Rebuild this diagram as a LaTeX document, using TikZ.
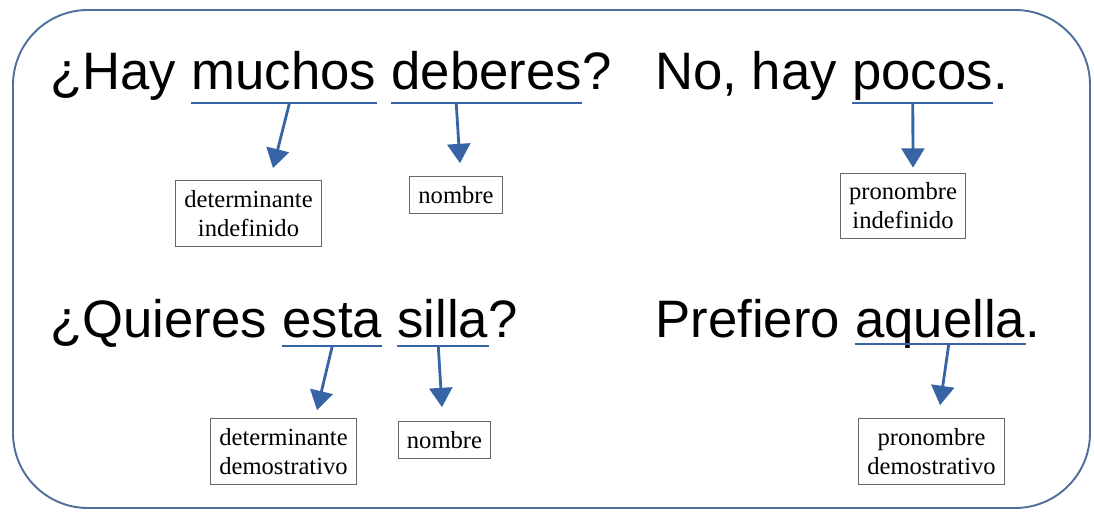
\documentclass[tikz,border=0pt]{standalone}
\usepackage{fontspec}
\setmainfont{Liberation Serif}
\newfontfamily\arialf{Liberation Sans}
\usetikzlibrary{calc,arrows.meta}
\definecolor{azul}{RGB}{55,100,165}
\definecolor{borde}{RGB}{80,112,155}
\definecolor{gris}{RGB}{105,105,105}
\tikzset{
	frase/.style={font=\arialf\fontsize{30}{36}\selectfont, anchor=base west, inner sep=0pt},
	caja/.style={draw=gris, line width=0.6pt, font=\fontsize{14}{16.5}\selectfont, align=center, inner xsep=5pt, inner ysep=5.5pt},
	subr/.style={azul, line width=1.6pt},
	flecha/.style={azul, line width=1.6pt, -{Triangle[width=13pt,length=11pt]}},
	esp/.style={xshift=8.34pt}
}

\begin{document}
\begin{tikzpicture}[x=0.02cm,y=-0.02cm]
	\useasboundingbox (0,0) rectangle (1094,517);
	%CADRE
	\draw[borde, line width=1.1pt, rounded corners=1.5cm] (13,10) rectangle (1090,508);

	%PHRASE 1
	\node[frase] (hay) at (50,90) {¿Hay};
	\node[frase] (muchos) at ([esp]hay.base east) {muchos};
	\node[frase] (deberes) at ([esp]muchos.base east) {deberes};
	\node[frase] (int1) at (deberes.base east) {?};
	\node[frase] (no) at (655,90) {No, hay};
	\node[frase] (pocos) at ([esp]no.base east) {pocos};
	\node[frase] (pt1) at (pocos.base east) {.};

	%PHRASE 2
	\node[frase] (quieres) at (50,337) {¿Quieres};
	\node[frase] (esta) at ([esp]quieres.base east) {esta};
	\node[frase] (silla) at ([esp]esta.base east) {silla};
	\node[frase] (int2) at (silla.base east) {?};
	\node[frase] (prefiero) at (655,337) {Prefiero};
	\node[frase] (aquella) at ([esp]prefiero.base east) {aquella};
	\node[frase] (pt2) at (aquella.base east) {.};

	%CAJAS
	\node[caja] (detind) at (248.5,213.5) {determinante\\indefinido};
	\node[caja] (nom1) at (456,195) {nombre};
	\node[caja] (proind) at (903,206) {pronombre\\indefinido};
	\node[caja] (detdem) at (283.5,451.5) {determinante\\demostrativo};
	\node[caja] (nom2) at (444.5,440) {nombre};
	\node[caja] (prodem) at (931.5,451.5) {pronombre\\demostrativo};

	%SUBRAYADOS
	\foreach \p/\d in {muchos/13,deberes/13,pocos/13,esta/9,silla/9,aquella/7}{
		\coordinate (\p-a) at ($(\p.base west)+(0,\d)$);
		\coordinate (\p-b) at ($(\p.base east)+(0,\d)$);
		\draw[subr] (\p-a) -- (\p-b);
	}

	%FLECHAS
	\draw[flecha] ($(muchos-a)!.53!(muchos-b)$) -- ($(detind.north)+(24.5,-12)$);
	\draw[flecha] ($(deberes-a)!.34!(deberes-b)$) -- ($(nom1.north)+(4,-13)$);
	\draw[flecha] ($(pocos-a)!.43!(pocos-b)$) -- ($(proind.north)+(10,-5)$);
	\draw[flecha] ($(esta-a)!.5!(esta-b)$) -- ($(detdem.north)+(33.5,-8)$);
	\draw[flecha] ($(silla-a)!.45!(silla-b)$) -- ($(nom2.north)+(-2.5,-14)$);
	\draw[flecha] ($(aquella-a)!.55!(aquella-b)$) -- ($(prodem.north)+(8.5,-13)$);
\end{tikzpicture}
\end{document}
